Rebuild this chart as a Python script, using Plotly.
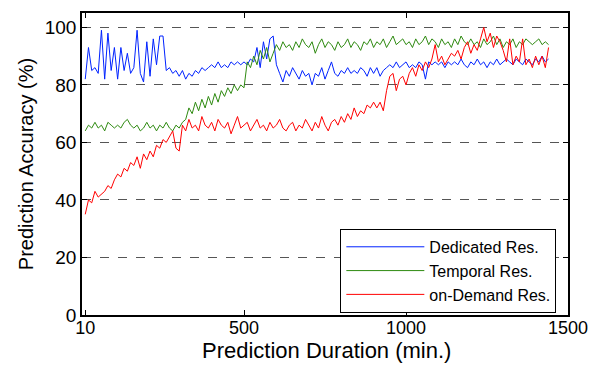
import plotly.graph_objects as go

duration = list(range(10, 1441, 10))

dedicated = [
    82, 93, 85, 86, 84, 99, 82, 98, 85, 93,
    82, 93, 85, 91, 84, 86, 99, 84, 81, 95,
    83, 96, 87, 97, 97, 85, 86, 84, 85, 83,
    85, 82, 84, 83, 85, 84, 86, 85, 86, 87,
    86, 88, 86, 87, 86, 88, 87, 88, 87, 88,
    87, 89, 88, 93, 86, 95, 89, 96, 97, 87,
    84, 81, 85, 83, 86, 84, 82, 85, 83, 84,
    80, 84, 83, 86, 82, 85, 88, 84, 83, 85,
    84, 86, 84, 85, 84, 86, 85, 83, 86, 84,
    86, 83, 85, 86, 87, 86, 88, 86, 87, 88,
    86, 87, 86, 88, 87, 82, 88, 87, 88, 87,
    88, 86, 88, 87, 88, 87, 89, 87, 86, 88,
    87, 89, 87, 88, 86, 88, 87, 89, 87, 88,
    89, 88, 87, 89, 88, 87, 89, 88, 87, 89,
    88, 90, 88, 89,
]

temporal = [
    64, 66, 65, 67, 65, 66, 64, 67, 66, 65,
    66, 65, 67, 68, 66, 65, 66, 64, 65, 67,
    65, 66, 64, 66, 65, 67, 65, 64, 66, 65,
    67, 68, 72, 70, 74, 71, 75, 72, 76, 73,
    77, 74, 78, 76, 79, 77, 80, 78, 80, 79,
    88, 86, 90, 87, 92, 89, 93, 88, 91, 94,
    92, 95, 93, 94, 92, 95, 93, 96, 94, 93,
    95, 91, 94, 96, 93, 95, 94, 92, 95, 93,
    94, 96, 93, 95, 94, 92, 95, 94, 96, 93,
    95, 94, 96, 93, 95, 97, 94, 95, 96, 94,
    95, 93, 96, 94, 95, 97, 94, 96, 95, 93,
    96, 94, 95, 93, 96, 94, 97, 95, 94, 96,
    94, 95, 93, 96, 94, 95, 97, 94, 96, 93,
    95, 94, 96, 93, 95, 94, 96, 95, 94, 95,
    96, 94, 95, 94,
]

on_demand = [
    35, 40, 39, 43, 41, 42, 43, 45, 44, 47,
    49, 48, 51, 50, 53, 52, 55, 51, 56, 54,
    57, 55, 59, 58, 61, 60, 62, 64, 58, 57,
    66, 64, 68, 65, 66, 64, 69, 66, 65, 67,
    64, 68, 66, 65, 67, 63, 66, 69, 65, 66,
    67, 64, 66, 68, 65, 66, 64, 67, 65, 66,
    68, 65, 64, 66, 67, 64, 66, 65, 68, 66,
    64, 67, 65, 69, 66, 64, 67, 68, 66, 69,
    67, 70, 68, 72, 69, 71, 70, 73, 72, 74,
    72, 74, 71, 78, 83, 84, 78, 82, 83, 80,
    84, 86, 83, 87, 85, 88, 86, 89, 94, 88,
    90, 87, 89, 91, 90, 92, 89, 93, 95, 91,
    94, 92, 96, 100, 95, 98, 93, 97, 95, 92,
    88, 96, 87, 90, 88, 96, 87, 89, 86, 90,
    87, 90, 86, 93,
]

series_names = ["Dedicated Res.", "Temporal Res.", "on-Demand Res."]
x_ticks = [10, 500, 1000, 1500]
y_ticks = [0, 20, 40, 60, 80, 100]

FONT = "Liberation Sans, Arial, sans-serif"
colors = ["#0022ff", "#2e8a10", "#ff0000"]

fig = go.Figure()
for name, ys, c in zip(series_names, [dedicated, temporal, on_demand], colors):
    fig.add_trace(go.Scatter(x=duration, y=ys, mode="lines", name=name,
                             line=dict(color=c, width=1)))

fig.update_layout(
    width=601, height=365,
    margin=dict(l=82, r=33, t=13, b=50, autoexpand=False),
    paper_bgcolor="white", plot_bgcolor="white",
    font=dict(family=FONT, color="black"),
    legend=dict(x=0.976, y=0.007, xanchor="right", yanchor="bottom",
                bgcolor="white", bordercolor="black", borderwidth=1,
                font=dict(size=16, family=FONT), tracegroupgap=0,
                itemwidth=78),
    showlegend=True,
    annotations=[dict(text="Prediction Duration (min.)", xref="paper", yref="paper",
                      x=0.504, y=-0.116, xanchor="center", yanchor="middle",
                      showarrow=False, borderpad=0, font=dict(size=22, family=FONT))],
)
fig.update_xaxes(
    range=[0, 1500], tickvals=x_ticks, ticktext=[str(v) for v in x_ticks],
    ticks="inside", ticklen=5, tickcolor="black", tickwidth=1,
    showline=True, linecolor="black", linewidth=1.5, mirror="ticks",
    showgrid=False, zeroline=False, automargin=False,
    tickfont=dict(size=18, family=FONT), ticklabelstandoff=-4,
)
fig.update_yaxes(
    range=[0, 105], tickvals=y_ticks,
    ticks="inside", ticklen=5, tickcolor="black", tickwidth=1,
    showline=True, linecolor="black", linewidth=1.5, mirror="ticks",
    showgrid=True, gridcolor="#555555", griddash="dash", gridwidth=1,
    zeroline=False, automargin=False,
    tickfont=dict(size=19, family=FONT),
    title=dict(text="Prediction Accuracy (%)", font=dict(size=20, family=FONT), standoff=6),
)

fig.write_html("out.html")
